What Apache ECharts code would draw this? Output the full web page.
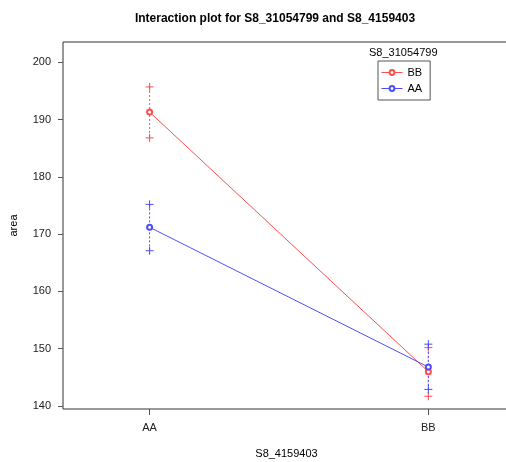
<!DOCTYPE html>
<html>
<head>
<meta charset="utf-8">
<script src="https://cdn.jsdelivr.net/npm/echarts@6/dist/echarts.min.js"></script>
<style>
  html, body { margin: 0; padding: 0; background: #fff; }
  #chart { width: 506px; height: 462px; }
</style>
</head>
<body>
<div id="chart"></div>
<script>
// x factor levels (S8_4159403)
const categories = ['AA', 'BB'];
// trace factor levels (S8_31054799), in legend order
const groups = ['BB', 'AA'];
const colors = ['#ff4d4d', '#4d4dff'];
// mean area per group at AA, BB
const means = [[191.3, 146.0], [171.2, 146.8]];
const upper = [[195.7, 150.2], [175.2, 150.8]];
const lower = [[186.8, 141.7], [167.1, 142.9]];
const yTicks = [140, 150, 160, 170, 180, 190, 200];

const font = 'Liberation Sans, Arial, sans-serif';

// error bars: dotted vertical line with a + at each end
function errBar(color) {
  return function (params, api) {
    const x = api.value(0);
    const top = api.coord([x, api.value(2)]);
    const bot = api.coord([x, api.value(1)]);
    const h = 4;
    const st = { stroke: color, lineWidth: 1 };
    return {
      type: 'group',
      children: [
        { type: 'line', shape: { x1: top[0], y1: top[1], x2: bot[0], y2: bot[1] },
          style: { stroke: color, lineWidth: 1, lineDash: [2, 2] } },
        { type: 'line', shape: { x1: top[0] - h, y1: top[1], x2: top[0] + h, y2: top[1] }, style: st },
        { type: 'line', shape: { x1: top[0], y1: top[1] - h, x2: top[0], y2: top[1] + h }, style: st },
        { type: 'line', shape: { x1: bot[0] - h, y1: bot[1], x2: bot[0] + h, y2: bot[1] }, style: st },
        { type: 'line', shape: { x1: bot[0], y1: bot[1] - h, x2: bot[0], y2: bot[1] + h }, style: st }
      ]
    };
  };
}

const series = [];
groups.forEach((g, i) => {
  series.push({
    name: g,
    type: 'line',
    data: means[i].map((v, j) => [j + 1, v]),
    symbol: 'emptyCircle',
    symbolSize: 5,
    lineStyle: { color: colors[i], width: 1 },
    itemStyle: { color: colors[i], borderWidth: 1 },
    emphasis: { disabled: true },
    z: 3
  });
  series.push({
    type: 'custom',
    renderItem: errBar(colors[i]),
    data: categories.map((c, j) => [j + 1, lower[i][j], upper[i][j]]),
    silent: true,
    z: 2
  });
});

const chart = echarts.init(document.getElementById('chart'));
chart.setOption({
  animation: false,
  textStyle: { fontFamily: font },
  title: {
    text: 'Interaction plot for S8_31054799 and S8_4159403',
    left: 270, top: 8, textAlign: 'center',
    textStyle: { fontFamily: font, fontSize: 12, fontWeight: 'bold', color: '#000' }
  },
  grid: {
    left: 63, top: 42, right: -4, bottom: 53,
    outerBoundsMode: 'none',
    show: true, borderColor: '#333', borderWidth: 1
  },
  legend: {
    data: groups,
    orient: 'vertical',
    left: 378, top: 61,
    width: 52,
    padding: [6, 8, 6, 3],
    itemGap: 5,
    itemWidth: 21, itemHeight: 6,
    itemStyle: { borderWidth: 1 },
    lineStyle: { width: 1 },
    borderColor: '#555', borderWidth: 1,
    textStyle: { fontFamily: font, fontSize: 11, color: '#000' }
  },
  graphic: [{
    type: 'text', left: 369, top: 47,
    style: { text: 'S8_31054799', font: '11px ' + font, fill: '#000' }
  }],
  xAxis: {
    type: 'value',
    min: 0.6893, max: 2.2929,
    name: 'S8_4159403', nameLocation: 'middle', nameGap: 39,
    nameTextStyle: { fontFamily: font, fontSize: 11, color: '#000' },
    axisLine: { show: false },
    axisTick: { show: true, customValues: [1, 2], length: 6, lineStyle: { color: '#555' } },
    axisLabel: {
      customValues: [1, 2], margin: 13,
      formatter: v => categories[Math.round(v) - 1],
      fontFamily: font, fontSize: 11, color: '#222'
    },
    splitLine: { show: false }
  },
  yAxis: {
    type: 'value',
    min: 139.48, max: 203.54,
    name: 'area', nameLocation: 'middle', nameGap: 44,
    nameTextStyle: { fontFamily: font, fontSize: 11, color: '#000' },
    axisLine: { show: false },
    axisTick: { show: true, customValues: yTicks, length: 5, lineStyle: { color: '#555' } },
    axisLabel: {
      customValues: yTicks, margin: 12,
      fontFamily: font, fontSize: 11, color: '#222'
    },
    splitLine: { show: false }
  },
  series: series
});
</script>
</body>
</html>
